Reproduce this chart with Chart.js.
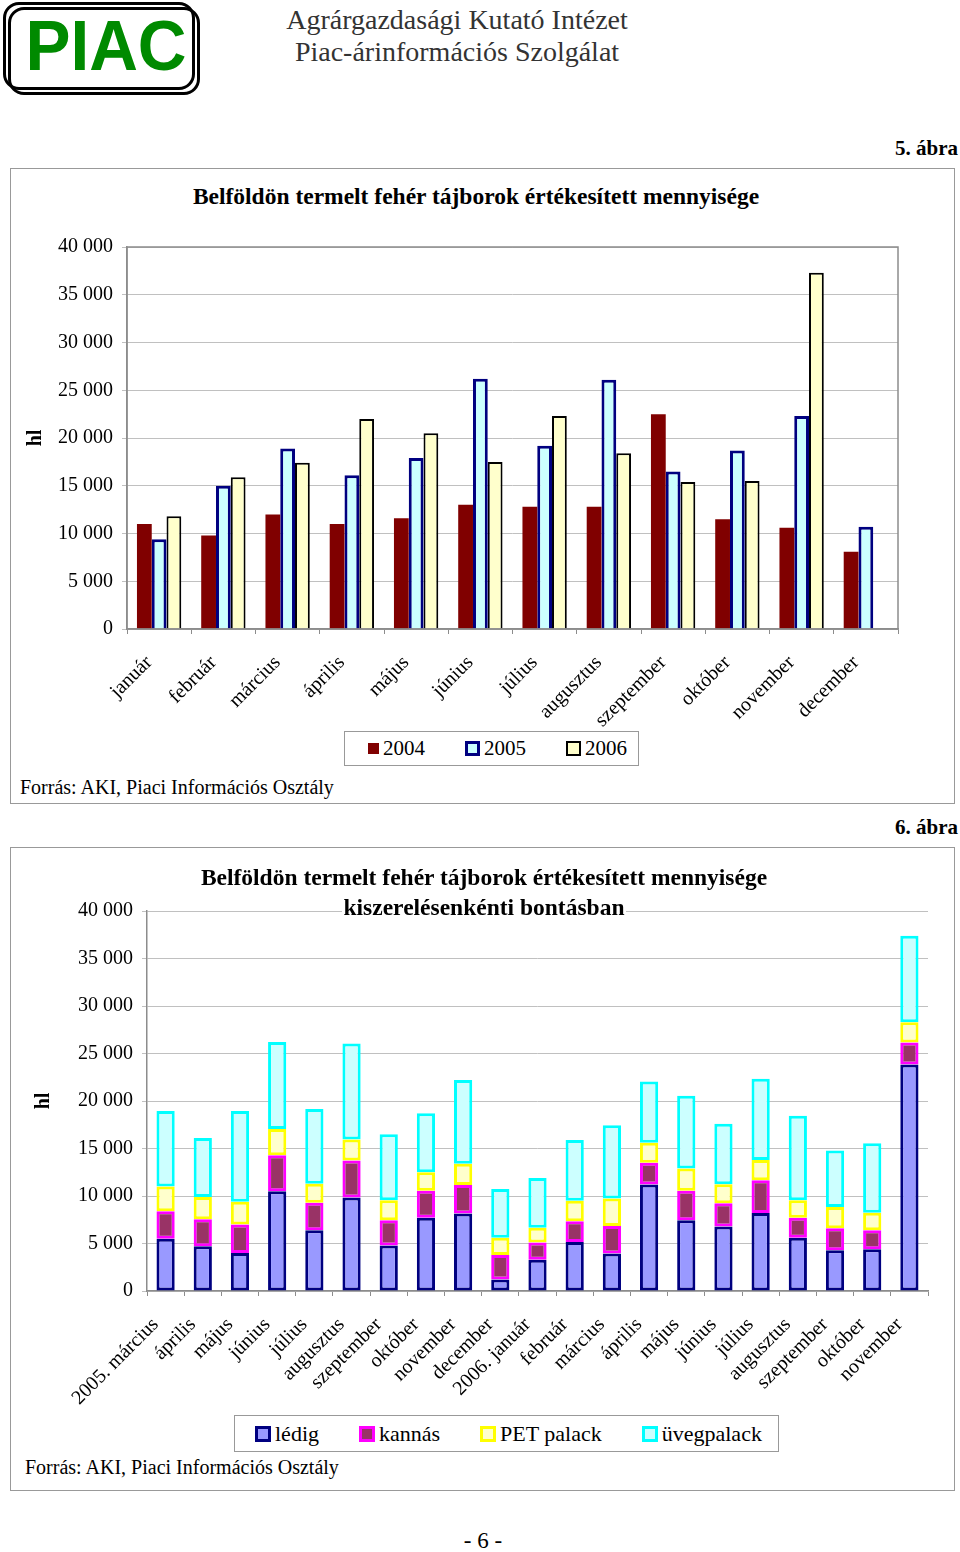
<!DOCTYPE html>
<html lang="hu">
<head>
<meta charset="utf-8">
<title>Belföldön termelt fehér tájborok</title>
<script src="https://cdn.jsdelivr.net/npm/chart.js@4/dist/chart.umd.min.js"></script>
<style>
    body { margin: 0; background: #fff; font-family: 'Liberation Serif', 'Times New Roman', serif; color: #000; }
    .page { position: relative; width: 960px; height: 1552px; overflow: hidden; }
    .abs { position: absolute; }
    .logo-frame { position: absolute; width: 186px; height: 82px; border: 3px solid #000; border-radius: 16px; }
    .logo-text { position: absolute; left: 8px; top: 4px; width: 196px; text-align: center; font-family: 'Liberation Sans', Arial, sans-serif; font-weight: bold; font-size: 71px; line-height: 84px; color: #008a00; transform: scaleX(0.95); }
    .institute { position: absolute; left: 250px; width: 414px; text-align: center; font-size: 28px; line-height: 32px; color: #333; }
    .fig-no { position: absolute; right: 2px; font-weight: bold; font-size: 21px; }
    .frame { position: absolute; left: 10px; width: 945px; border: 1.5px solid #999; box-sizing: border-box; }
    .chart-title { position: absolute; text-align: center; font-weight: bold; font-size: 23.5px; line-height: 30px; z-index: 2; }
    .chart-title span { background: #fff; padding: 0 2px; }
    .source { position: absolute; font-size: 20px; }
    .legend { position: absolute; border: 1px solid #999; box-sizing: border-box; display: flex; align-items: center; gap: 40px; }
    .legend-item { display: flex; align-items: center; gap: 4px; }
    .legend-swatch { box-sizing: border-box; }
    canvas { position: absolute; }
</style>
</head>
<body>
<div class="page">
    <div class="logo-frame" style="left: 3px; top: 2px;"></div>
    <div class="logo-frame" style="left: 8px; top: 7px;"></div>
    <div class="logo-text">PIAC</div>
    <div class="institute" style="top: 4px;">Agrárgazdasági Kutató Intézet</div>
    <div class="institute" style="top: 36px;">Piac-árinformációs Szolgálat</div>

    <div class="fig-no" style="top: 136px;">5. ábra</div>
    <div class="frame" style="top: 168px; height: 636px;"></div>
    <div class="chart-title" style="left: 10px; width: 932px; top: 181px;"><span>Belföldön termelt fehér tájborok értékesített mennyisége</span></div>
    <canvas id="monthlyChart" width="930" height="504" style="left: 14px; top: 226px; width: 930px; height: 504px;"></canvas>
    <div class="legend" id="monthlyLegend" style="left: 344px; top: 731px; width: 295px; height: 35px; padding-left: 23px; font-size: 21px;"></div>
    <div class="source" style="left: 20px; top: 776px;">Forrás: AKI, Piaci Információs Osztály</div>

    <div class="fig-no" style="top: 815px;">6. ábra</div>
    <div class="frame" style="top: 847px; height: 644px;"></div>
    <canvas id="packagingChart" width="930" height="520" style="left: 14px; top: 890px; width: 930px; height: 520px;"></canvas>
    <div class="chart-title" style="left: 164px; width: 640px; top: 862px;"><span>Belföldön termelt fehér tájborok értékesített mennyisége</span><br><span>kiszerelésenkénti bontásban</span></div>
    <div class="legend" id="packagingLegend" style="left: 234px; top: 1415px; width: 545px; height: 37px; padding-left: 20px; font-size: 22px;"></div>
    <div class="source" style="left: 25px; top: 1456px;">Forrás: AKI, Piaci Információs Osztály</div>

    <div class="abs" style="left: 0; width: 966px; top: 1528px; text-align: center; font-size: 23px;">- 6 -</div>
</div>

<script>
// 5. ábra: monthly volumes by year
const months = ['január', 'február', 'március', 'április', 'május', 'június', 'július', 'augusztus', 'szeptember', 'október', 'november', 'december'];
const years = ['2004', '2005', '2006'];
const volume2004 = [11000, 9800, 12000, 11000, 11600, 13000, 12800, 12800, 22500, 11500, 10600, 8100];
const volume2005 = [9400, 15000, 18900, 16100, 17900, 26200, 19200, 26100, 16500, 18700, 22300, 10700];
const volume2006 = [11800, 15900, 17400, 22000, 20500, 17500, 22300, 18400, 15400, 15500, 37300, null];

// 6. ábra: monthly volumes by packaging
const periods = ['2005. március', 'április', 'május', 'június', 'július', 'augusztus', 'szeptember', 'október', 'november', 'december',
    '2006. január', 'február', 'március', 'április', 'május', 'június', 'július', 'augusztus', 'szeptember', 'október', 'november'];
const packagings = ['lédig', 'kannás', 'PET palack', 'üvegpalack'];
const ledig = [5500, 4700, 4000, 10500, 6400, 9850, 4800, 7700, 8150, 1200, 3300, 5150, 3950, 11200, 7450, 6800, 8200, 5600, 4300, 4400, 23850];
const kannas = [2900, 2850, 3000, 3800, 2900, 3900, 2650, 2850, 3000, 2600, 1800, 2200, 2900, 2300, 3100, 2450, 3450, 2100, 2300, 2000, 2300];
const petPalack = [2600, 2350, 2400, 2750, 2000, 2200, 2100, 1950, 2250, 1800, 1550, 2150, 2900, 2100, 2350, 2000, 2150, 1850, 2250, 1850, 2150];
const uvegpalack = [7950, 6200, 9550, 9150, 7850, 10100, 6950, 6200, 8800, 5150, 5250, 6400, 7700, 6450, 7650, 6350, 8550, 8900, 5950, 7300, 9100];

const yMin = 0;
const yMax = 40000;
const yStep = 5000;

// styles
const yearFills = ['#800000', '#ccffff', '#ffffcc'];
const yearBorders = ['#800000', '#000080', '#000000'];
const yearBorderWidths = [0, 3, 2];
const packFills = ['#9999ff', '#993366', '#ffffcc', '#ccffff'];
const packBorders = ['#000080', '#ff00ff', '#ffff00', '#00ffff'];

Chart.defaults.font.family = "'Liberation Serif', 'Times New Roman', serif";
Chart.defaults.color = '#000';

function formatThousands(value) {
    return String(value).replace(/\B(?=(\d{3})+(?!\d))/g, ' ');
}

const plotBorder = {
    id: 'plotBorder',
    afterDatasetsDraw(chart, args, opts) {
        if (!opts.display) {
            return;
        }
        const { ctx, chartArea } = chart;
        ctx.save();
        ctx.strokeStyle = '#8c8c8c';
        ctx.lineWidth = 1.5;
        ctx.strokeRect(chartArea.left, chartArea.top, chartArea.right - chartArea.left, chartArea.bottom - chartArea.top);
        ctx.restore();
    },
};

function buildOptions({ stacked, padding, yWidth, xHeight, titlePad, border }) {
    return {
        responsive: false,
        animation: false,
        devicePixelRatio: 1,
        layout: { padding },
        plugins: {
            legend: { display: false },
            tooltip: { enabled: false },
            plotBorder: { display: border },
        },
        scales: {
            x: {
                stacked,
                grid: { display: true, drawOnChartArea: false, drawTicks: true, tickLength: 5, color: '#8c8c8c', offset: true },
                border: { display: true, color: '#8c8c8c', width: 1.5 },
                ticks: { autoSkip: false, minRotation: 45, maxRotation: 45, padding: 17, labelOffset: -10, font: { size: 20 } },
                afterFit: (scale) => { scale.height = xHeight; },
            },
            y: {
                stacked,
                min: yMin,
                max: yMax,
                grid: { color: '#c0c0c0', tickLength: 5, drawTicks: true },
                border: { display: true, color: '#8c8c8c', width: 1.5 },
                ticks: { stepSize: yStep, padding: 9, font: { size: 20 }, callback: (value) => formatThousands(value) },
                title: { display: true, text: 'hl', font: { size: 20, weight: 'bold' }, padding: { top: titlePad, bottom: 0 } },
                afterFit: (scale) => { scale.width = yWidth; },
            },
        },
    };
}

function buildLegend(hostId, names, fills, borders, widths, sizes) {
    const host = document.getElementById(hostId);
    names.forEach((name, i) => {
        const item = document.createElement('div');
        item.className = 'legend-item';
        const swatch = document.createElement('div');
        swatch.className = 'legend-swatch';
        swatch.style.width = `${sizes[i]}px`;
        swatch.style.height = `${sizes[i]}px`;
        swatch.style.background = fills[i];
        swatch.style.border = `${widths[i]}px solid ${borders[i]}`;
        const label = document.createElement('span');
        label.textContent = name;
        item.appendChild(swatch);
        item.appendChild(label);
        host.appendChild(item);
    });
}

const yearValues = [volume2004, volume2005, volume2006];
new Chart(document.getElementById('monthlyChart'), {
    type: 'bar',
    data: {
        labels: months,
        datasets: years.map((year, i) => ({
            label: year,
            data: yearValues[i],
            backgroundColor: yearFills[i],
            borderColor: yearBorders[i],
            borderWidth: yearBorderWidths[i],
            borderSkipped: 'start',
            barPercentage: 1,
            categoryPercentage: 0.69,
        })),
    },
    options: buildOptions({ stacked: false, padding: { left: 0, right: 46, top: 17, bottom: 0 }, yWidth: 113, xHeight: 101, titlePad: 10, border: true }),
    plugins: [plotBorder],
});

const packValues = [ledig, kannas, petPalack, uvegpalack];
new Chart(document.getElementById('packagingChart'), {
    type: 'bar',
    data: {
        labels: periods,
        datasets: packagings.map((name, i) => ({
            label: name,
            data: packValues[i],
            backgroundColor: packFills[i],
            borderColor: packBorders[i],
            borderWidth: 3,
            borderSkipped: false,
            barPercentage: 1,
            categoryPercentage: 0.49,
        })),
    },
    options: buildOptions({ stacked: true, padding: { left: 0, right: 16, top: 20, bottom: 0 }, yWidth: 133, xHeight: 119, titlePad: 18, border: false }),
    plugins: [plotBorder],
});

buildLegend('monthlyLegend', years, yearFills, yearBorders, [0, 3, 2], [11, 15, 15]);
buildLegend('packagingLegend', packagings, packFills, packBorders, [3, 3, 3, 3], [16, 16, 16, 16]);
</script>
</body>
</html>
